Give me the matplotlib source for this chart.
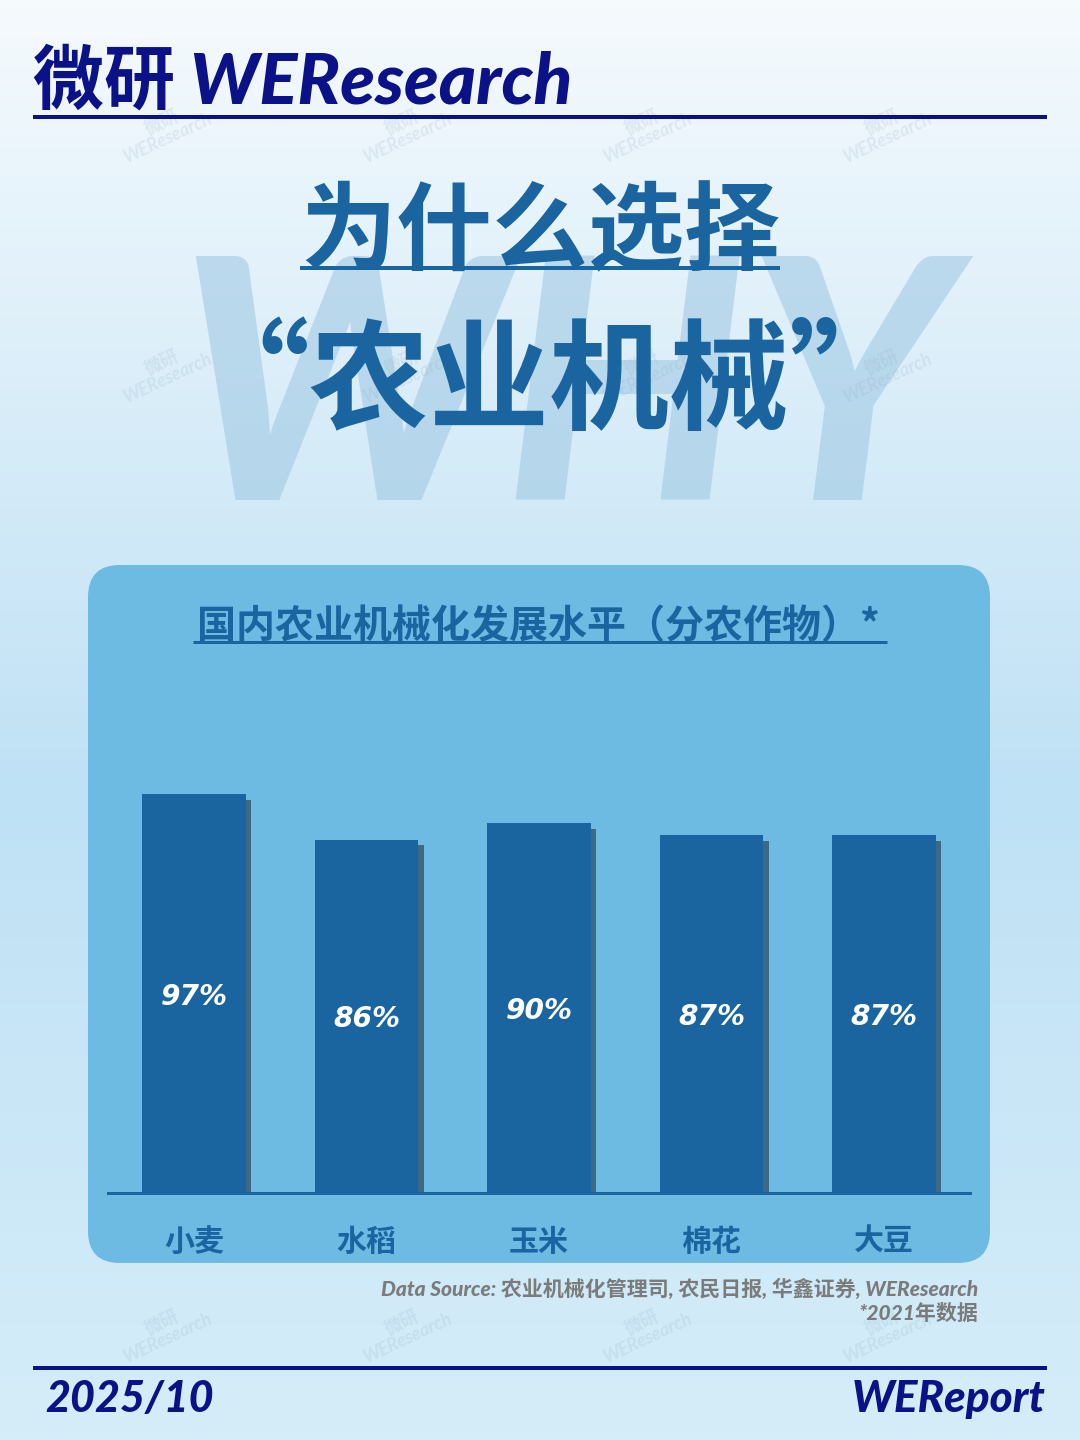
import matplotlib

matplotlib.use("Agg")

import matplotlib.pyplot as plt
import matplotlib.patheffects as pe
import numpy as np
from matplotlib.colors import LinearSegmentedColormap
from matplotlib.patches import FancyBboxPatch

crops = ["小麦", "水稻", "玉米", "棉花", "大豆"]
levels = [97, 86, 90, 87, 87]
value_labels = ["97%", "86%", "90%", "87%", "87%"]

header = "微研 WEResearch"
title_1 = "为什么选择"
title_2 = "“农业机械”"
chart_title = "国内农业机械化发展水平（分农作物）*"
source_1 = "Data Source: 农业机械化管理司, 农民日报, 华鑫证券, WEResearch"
source_2 = "*2021年数据"
date_text = "2025/10"
brand = "WEReport"

STYLE = {
    "navy": "#0b1288",
    "blue": "#1a64a0",
    "panel": "#6dbae2",
    "gray": "#7b7b7b",
    "why": "#9cc6e2",
}

CJK = ["Noto Sans CJK SC", "DejaVu Sans"]
LATIN_CJK = ["Lato", "Noto Sans CJK SC", "DejaVu Sans"]

W, H = 1080, 1440


def px(size):
    return size * 0.72


fig = plt.figure(figsize=(W / 100, H / 100), dpi=100)

# background in pixel coordinates
bg = fig.add_axes([0, 0, 1, 1])
bg.set_xlim(0, W)
bg.set_ylim(H, 0)
bg.axis("off")
cmap = LinearSegmentedColormap.from_list(
    "bg", [(0.0, "#f5fafd"), (0.35, "#d2eaf8"), (0.55, "#bfe1f5"), (1.0, "#d5edf9")]
)
grad = np.linspace(0, 1, 400).reshape(-1, 1)
bg.imshow(grad, cmap=cmap, extent=[0, W, H, 0], aspect="auto", zorder=0)

# big faded WHY
bg.text(566, 500, "WHY", fontsize=px(336), fontfamily="Lato", fontweight="black",
        fontstyle="italic", color=STYLE["why"], alpha=0.55, ha="center", va="baseline", zorder=1)

# watermarks
for wy in [130, 370, 610, 850, 1090, 1330]:
    for wx in [165, 405, 645, 885]:
        bg.text(wx, wy, "微研\nWEResearch", fontsize=px(18), family=LATIN_CJK, fontweight="bold",
                fontstyle="italic", color="#8fa9bd", alpha=0.18, rotation=25,
                ha="center", va="center", zorder=2, linespacing=0.95)

# header
bg.text(33, 103, header, fontsize=px(71), family=LATIN_CJK, fontweight="black",
        fontstyle="italic", color=STYLE["navy"], ha="left", va="baseline", zorder=5)
bg.plot([33, 1047], [117, 117], color=STYLE["navy"], lw=px(4), solid_capstyle="butt", zorder=5)

# titles
bg.text(540, 262, title_1, fontsize=px(96), family=CJK, fontweight="black",
        color=STYLE["blue"], ha="center", va="baseline", zorder=5)
bg.plot([300, 780], [268, 268], color=STYLE["blue"], lw=px(4), solid_capstyle="butt", zorder=5)
bg.text(549, 420, title_2, fontsize=px(120), family=CJK, fontweight="black",
        color=STYLE["blue"], ha="center", va="baseline", zorder=5)

# chart panel
panel = FancyBboxPatch((88, 565), 902, 698, boxstyle="round,pad=0,rounding_size=32",
                       facecolor=STYLE["panel"], edgecolor="none", zorder=3)
bg.add_patch(panel)
bg.text(538, 638, chart_title, fontsize=px(39), family=CJK, fontweight="bold",
        color=STYLE["blue"], ha="center", va="baseline", zorder=5)
bg.plot([193, 887], [642, 642], color=STYLE["blue"], lw=px(3), solid_capstyle="butt", zorder=5)

# sources
bg.text(978, 1296, source_1, fontsize=px(21), family=LATIN_CJK, fontweight="black",
        fontstyle="italic", color=STYLE["gray"], ha="right", va="baseline", zorder=5)
bg.text(978, 1320, source_2, fontsize=px(21), family=LATIN_CJK, fontweight="black",
        fontstyle="italic", color=STYLE["gray"], ha="right", va="baseline", zorder=5)

# footer
bg.plot([33, 1047], [1368, 1368], color=STYLE["navy"], lw=px(4), solid_capstyle="butt", zorder=5)
bg.text(45, 1412, date_text, fontsize=px(43), family=LATIN_CJK, fontweight="black",
        fontstyle="italic", color=STYLE["navy"], ha="left", va="baseline", zorder=5)
bg.text(1045, 1412, brand, fontsize=px(44), family=LATIN_CJK, fontweight="black",
        fontstyle="italic", color=STYLE["navy"], ha="right", va="baseline", zorder=5)

# bar chart: baseline at y=1193, value 100 at y=782
ax = fig.add_axes([108 / W, (H - 1193) / H, 862 / W, 411 / H])
ax.set_facecolor("none")
ax.set_xlim(-0.5, len(crops) - 0.5)
ax.set_ylim(0, 100)
x = np.arange(len(crops))
bars = ax.bar(x, levels, width=0.6, color=STYLE["blue"], zorder=3)
for b in bars:
    b.set_path_effects([pe.SimplePatchShadow(offset=(4, -4), shadow_rgbFace="#1d3346", alpha=0.6),
                        pe.Normal()])
for xi, v, lab in zip(x, levels, value_labels):
    ax.text(xi, v / 2, lab, fontsize=px(28), fontfamily="DejaVu Sans", fontweight="bold",
            fontstyle="italic", color="white", ha="center", va="center_baseline", zorder=4)
for s in ["top", "right", "left"]:
    ax.spines[s].set_visible(False)
ax.spines["bottom"].set_color(STYLE["blue"])
ax.spines["bottom"].set_linewidth(px(3))
ax.spines["bottom"].set_zorder(5)
ax.set_yticks([])
ax.set_xticks(x)
ax.set_xticklabels(crops, family=CJK, fontweight="bold", fontsize=px(30), color=STYLE["blue"])
ax.tick_params(axis="x", length=0, pad=px(34))

fig.savefig("out.png", dpi=100)
